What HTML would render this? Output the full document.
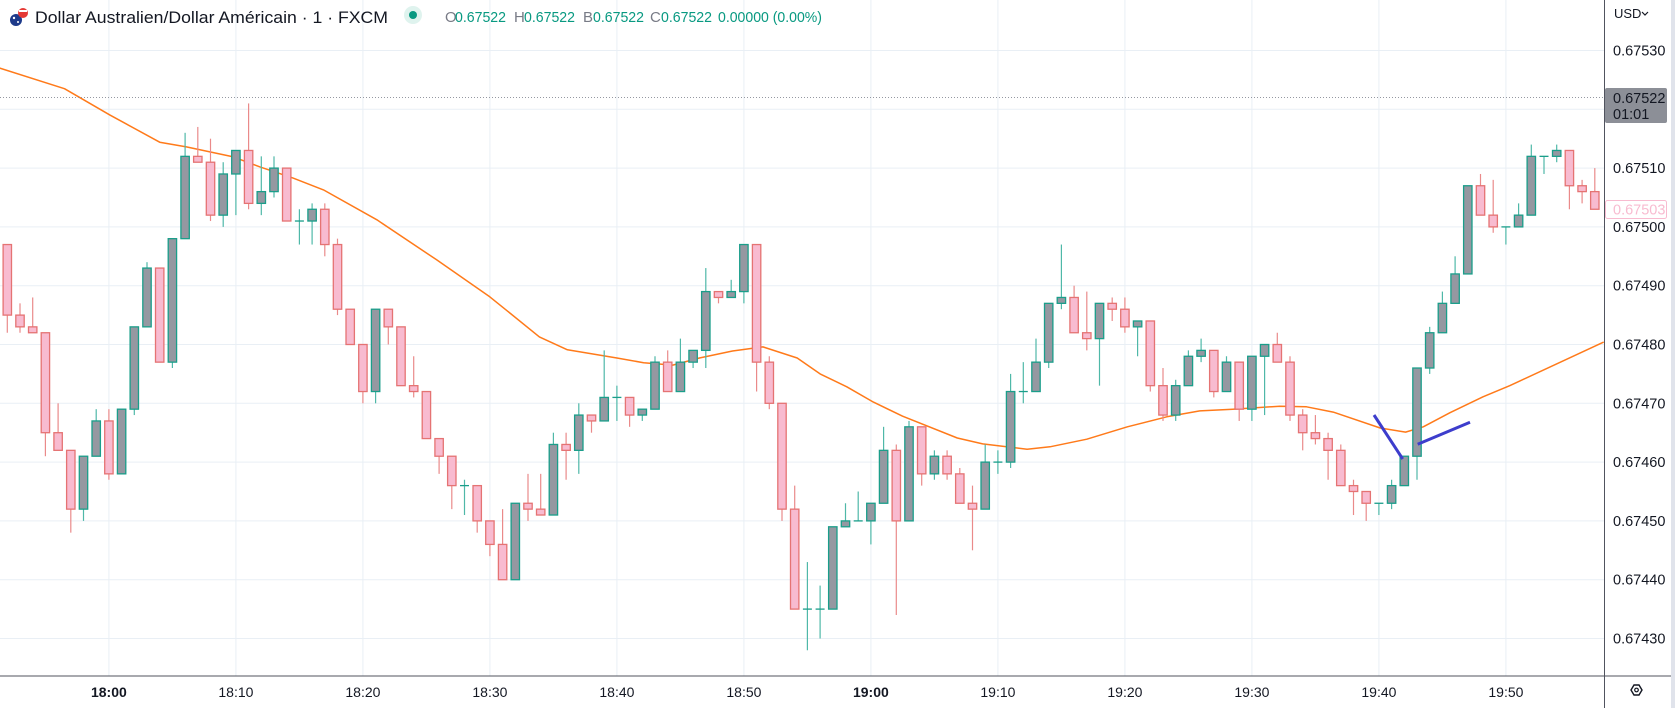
<!DOCTYPE html>
<html><head><meta charset="utf-8"><style>
html,body{margin:0;padding:0;background:#fff;}
svg{display:block;font-family:"Liberation Sans",sans-serif;}
</style></head><body>
<svg id="chart" width="1675" height="708" viewBox="0 0 1675 708" xmlns="http://www.w3.org/2000/svg">
<g id="grid"></g>
<g id="ma"></g>
<g id="candles"></g>
<g>
<line x1="1374" y1="415" x2="1402.7" y2="459" stroke="#3d3dcc" stroke-width="3"/>
<line x1="1417.7" y1="444.3" x2="1470" y2="422.3" stroke="#3d3dcc" stroke-width="3"/>
</g>
<line x1="0" y1="97.5" x2="1604" y2="97.5" stroke="#9598a1" stroke-width="1" stroke-dasharray="1,2"/>
<rect x="0" y="676" width="1675" height="32" fill="#fff"/>
<rect x="1605" y="0" width="70" height="708" fill="#fff"/>
<rect x="1671" y="0" width="4" height="708" fill="#e0e3eb"/>
<line x1="0" y1="676" x2="1671" y2="676" stroke="#50535e" stroke-width="1"/>
<line x1="1604.5" y1="0" x2="1604.5" y2="708" stroke="#50535e" stroke-width="1"/>
<g id="yticks"></g>
<g id="xticks"></g>
<g>
<text x="1614" y="18" font-size="13" fill="#131722">USD</text>
<path d="M1642 12 l3 3 l3 -3" fill="none" stroke="#131722" stroke-width="1.2"/>
</g>
<g>
<rect x="1605" y="88" width="62" height="35" rx="2" fill="#8c8f97"/>
<text x="1613" y="103" font-size="14.5" fill="#131722">0.67522</text>
<text x="1613" y="119" font-size="14.5" fill="#131722">01:01</text>
</g>
<g>
<rect x="1605.5" y="200.5" width="61" height="18" rx="2" fill="#fff" stroke="#f8bbd0"/>
<text x="1613" y="214.5" font-size="14.5" fill="#f8bbd0">0.67503</text>
</g>
<g>
<path d="M1634 685 l5 0 l3 5 l-3 5 l-5 0 l-3 -5 z" fill="none" stroke="#131722" stroke-width="1.4"/>
<circle cx="1636.5" cy="690" r="1.8" fill="none" stroke="#131722" stroke-width="1.2"/>
</g>
<g>
<g>
<circle cx="16" cy="20" r="6" fill="#1e3a8a"/>
<circle cx="23" cy="13" r="5" fill="#e53935"/>
<rect x="19" y="10" width="8" height="2" fill="#fff"/>
<circle cx="14" cy="18" r="1.2" fill="#fff"/><circle cx="18" cy="22" r="1" fill="#fff"/>
</g>
<text x="35" y="23" font-size="17" fill="#131722" textLength="353" lengthAdjust="spacingAndGlyphs">Dollar Australien/Dollar Américain · 1 · FXCM</text>
<circle cx="413" cy="15" r="9" fill="#dff3ee"/>
<circle cx="413" cy="15" r="4" fill="#089981"/>
<g font-size="15">
<text x="445" y="22" fill="#787b86">O</text><text x="455" y="22" fill="#089981" textLength="51" lengthAdjust="spacingAndGlyphs">0.67522</text>
<text x="514" y="22" fill="#787b86">H</text><text x="524" y="22" fill="#089981" textLength="51" lengthAdjust="spacingAndGlyphs">0.67522</text>
<text x="583" y="22" fill="#787b86">B</text><text x="593" y="22" fill="#089981" textLength="51" lengthAdjust="spacingAndGlyphs">0.67522</text>
<text x="650" y="22" fill="#787b86">C</text><text x="661" y="22" fill="#089981" textLength="51" lengthAdjust="spacingAndGlyphs">0.67522</text>
<text x="718" y="22" fill="#089981" textLength="104" lengthAdjust="spacingAndGlyphs">0.00000 (0.00%)</text>
</g>
</g>
</svg>
<script>
// candle data in 1e-5 units above 0.67000
const opens=[497,485,483,482,465,462,452,461,467,458,469,483,493,477,498,512,511,502,509,513,504,506,510,501,501,503,497,486,480,472,486,483,473,472,464,461,456,456,450,446,440,453,452,451,463,462,468,467,471,471,468,469,477,472,477,479,489,488,489,497,477,470,452,435,435,435,449,450,450,453,462,450,466,458,461,458,453,452,460,460,472,472,477,487,488,482,481,487,486,483,484,473,468,473,478,479,472,477,469,478,480,477,468,465,464,462,456,455,453,453,456,461,476,482,487,492,507,502,500,500,502,512,512,513,507,506];
const highs=[497,487,488,482,470,462,461,469,469,469,483,494,493,498,516,517,515,511,513,521,512,512,510,503,504,504,498,486,480,486,486,483,478,472,464,461,457,456,450,452,453,458,458,465,465,470,468,479,473,471,469,478,479,481,479,493,489,491,497,497,478,470,456,443,439,449,453,455,453,466,463,467,466,462,462,459,456,463,462,475,477,481,487,497,490,489,487,488,488,484,484,476,474,479,481,479,478,477,478,480,482,478,469,468,465,463,457,455,453,457,461,476,483,489,495,507,509,508,500,504,514,512,514,513,508,510];
const lows=[482,482,482,461,462,448,450,461,457,458,468,483,477,476,498,511,501,500,502,503,502,505,501,497,497,495,485,480,470,470,480,473,471,464,458,452,451,448,444,440,440,450,451,451,457,458,465,467,467,466,467,469,472,472,476,476,487,488,487,472,469,450,435,428,430,435,449,450,446,453,434,450,456,457,457,453,445,452,458,459,470,472,476,486,482,479,473,484,482,478,472,467,467,473,477,471,472,467,467,468,477,467,462,463,457,456,451,450,451,452,456,457,475,482,487,492,502,499,497,500,502,509,511,503,504,503];
const closes=[485,483,482,465,462,452,461,467,458,469,483,493,477,498,512,511,502,509,513,504,506,510,501,501,503,497,486,480,472,486,483,473,472,464,461,456,456,450,446,440,453,452,451,463,462,468,467,471,471,468,469,477,472,477,479,489,488,489,497,477,470,452,435,435,435,449,450,450,453,462,450,466,458,461,458,453,452,460,460,472,472,477,487,488,482,481,487,486,483,484,473,468,473,478,479,472,477,469,478,480,477,468,465,464,462,456,455,453,453,456,461,476,482,487,492,507,502,500,500,502,512,512,513,507,506,503];
// moving average knots: candle index and value
const maIdx=[-0.6,4.5,8.1,12,14.1,17.8,19.9,22.5,24.9,29.1,33.8,38,41.9,44.1,48,50.1,52.4,54.5,57.1,59.5,62.2,64,66.1,68.2,70.5,74.8,76.8,80.3,82.1,85,88.2,91.3,93.9,96.5,100.2,102.3,104.4,108.1,110.1,111.5,113.6,116.2,118.3,125.7];
const maVal=[527.0,523.5,519.0,514.4,513.6,511.9,510.2,508.3,506.3,501.2,494.4,488.1,481.3,479.1,477.7,476.9,476.5,477.7,478.9,479.6,477.7,475.0,472.8,470.2,467.8,464.1,463.1,462.2,462.6,463.9,466.0,467.7,468.7,469.0,469.5,469.4,468.5,465.8,465.1,466.0,468.4,471.1,473.0,480.4];
const priceTicks=[530,520,510,500,490,480,470,460,450,440,430];
const timeLabels=["18:00","18:10","18:20","18:30","18:40","18:50","19:00","19:10","19:20","19:30","19:40","19:50"];
const timeLabelIdx=[8,18,28,38,48,58,68,78,88,98,108,118];

const NS="http://www.w3.org/2000/svg";
function X(i){return 7.3+i*12.7;}
function Y(v){return 109.3+(520-v)*5.88;}
function mk(tag,attrs,parent){const e=document.createElementNS(NS,tag);for(const k in attrs)e.setAttribute(k,attrs[k]);parent.appendChild(e);return e;}

const grid=document.getElementById('grid');
const yt=document.getElementById('yticks');
priceTicks.forEach(v=>{
  const y=Y(v);
  const l=mk('line',{x1:0,x2:1604,y1:y,y2:y,stroke:'#e9eff5','stroke-width':1},grid);
  
  
  const t=mk('text',{x:1613,y:y+5,'font-size':14.5,fill:'#131722'},yt);
  t.textContent=(0.67+v/100000).toFixed(5);
  
  
});
const xt=document.getElementById('xticks');
timeLabels.forEach((s,k)=>{
  const x=X(timeLabelIdx[k]);
  const l=mk('line',{x1:x,x2:x,y1:0,y2:676,stroke:'#e9eff5','stroke-width':1},grid);
  
  
  const bold=(s==="18:00"||s==="19:00");
  const t=mk('text',{x:x,y:697,'font-size':14,fill:'#131722','text-anchor':'middle','font-weight':bold?'bold':'normal'},xt);
  t.textContent=s;
  
  
});

const ma=document.getElementById('ma');
const pts=maIdx.map((i,k)=>X(i).toFixed(1)+','+Y(maVal[k]).toFixed(1)).join(' ');
const pl=mk('polyline',{points:pts,fill:'none',stroke:'#ff7a1a','stroke-width':1.5,'stroke-linejoin':'round'},ma);



const cg=document.getElementById('candles');
opens.forEach((o,i)=>{
  const c=closes[i],h=highs[i],lo=lows[i];
  const up=c>=o;
  const x=X(i);
  const stroke=up?'#1a9e8a':'#e57373';
  const g=mk('g',{},cg);
  
  
  mk('line',{x1:x,x2:x,y1:Y(h),y2:Y(lo),stroke:up?'#4fb8a8':'#ea8a8a','stroke-width':1.2},g);
  const top=Y(Math.max(o,c)),bot=Y(Math.min(o,c));
  if(bot-top<1){
    mk('line',{x1:x-4.5,x2:x+4.5,y1:top,y2:top,stroke:stroke,'stroke-width':1.3},g);
  } else {
    mk('rect',{x:x-4.2,y:top,width:8.4,height:bot-top,fill:up?'#9598a1':'#f8bbd0',stroke:stroke,'stroke-width':1.3},g);
  }
});
</script>
</body></html>
